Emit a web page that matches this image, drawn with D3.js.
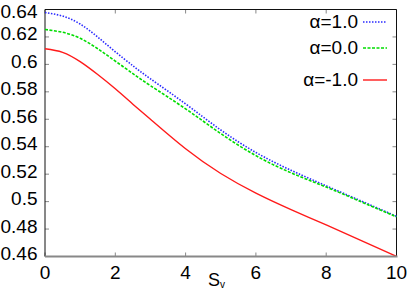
<!DOCTYPE html>
<html>
<head>
<meta charset="utf-8">
<script src="https://cdn.jsdelivr.net/npm/d3@7"></script>
<style>
  body { margin: 0; background: #fff; }
  svg { display: block; font-family: "Liberation Sans", Arial, sans-serif; }
</style>
</head>
<body>
<svg id="chart" width="415" height="291"></svg>
<script>
// values
const sv = [0, 0.5, 1, 1.5, 2, 2.5, 3, 4, 5, 6, 7, 8, 9, 10];
const alphaPos = [0.6378, 0.6352, 0.6294, 0.6199, 0.6092, 0.5990, 0.5895, 0.5712, 0.5522, 0.5358, 0.5228, 0.5115, 0.5004, 0.4893];
const alphaZero = [0.6254, 0.6234, 0.6190, 0.6114, 0.6024, 0.5933, 0.5845, 0.5676, 0.5496, 0.5335, 0.5210, 0.5106, 0.4998, 0.4889];
const alphaNeg = [0.6114, 0.6088, 0.6020, 0.5926, 0.5822, 0.5710, 0.5600, 0.5385, 0.5205, 0.5062, 0.4942, 0.4830, 0.4716, 0.4601];
const seriesNames = ["\u03b1=1.0", "\u03b1=0.0", "\u03b1=-1.0"];
const xTicks = [0, 2, 4, 6, 8, 10];
const yTicks = [0.46, 0.48, 0.5, 0.52, 0.54, 0.56, 0.58, 0.6, 0.62, 0.64];

const plotL = 45, plotR = 396.5, plotT = 9.5, plotB = 256.5;

const svg = d3.select("#chart");

const x = d3.scaleLinear().domain([0, 10]).range([plotL, plotR]);
const y = d3.scaleLinear().domain([0.46, 0.64]).range([plotB, plotT]);

const styles = [
  { color: "#2b2bff", dash: "1.5,1.5", width: 1.6 },
  { color: "#00dd00", dash: "3,1.5", width: 1.6 },
  { color: "#ff1a1a", dash: null, width: 1.4 }
];
const allSeries = [alphaPos, alphaZero, alphaNeg];

// ticks, pointing inward on all four sides
const tickLen = 4;
const g = svg.append("g").attr("stroke", "#888");
g.append("g").selectAll("line").data(yTicks).join("line")
  .attr("x1", plotL).attr("x2", plotL + tickLen)
  .attr("y1", d => y(d)).attr("y2", d => y(d));
g.append("g").selectAll("line").data(yTicks).join("line")
  .attr("x1", plotR).attr("x2", plotR - tickLen)
  .attr("y1", d => y(d)).attr("y2", d => y(d));
g.append("g").selectAll("line").data(xTicks).join("line")
  .attr("y1", plotB).attr("y2", plotB - tickLen)
  .attr("x1", d => x(d)).attr("x2", d => x(d));
g.append("g").selectAll("line").data(xTicks).join("line")
  .attr("y1", plotT).attr("y2", plotT + tickLen)
  .attr("x1", d => x(d)).attr("x2", d => x(d));

// frame
svg.append("line").attr("x1", plotL).attr("x2", plotR).attr("y1", plotT).attr("y2", plotT).attr("stroke", "#111");
svg.append("line").attr("x1", plotL).attr("x2", plotL).attr("y1", plotT).attr("y2", plotB).attr("stroke", "#111");
svg.append("line").attr("x1", plotR).attr("x2", plotR).attr("y1", plotT).attr("y2", plotB).attr("stroke", "#111");

// curves
const line = d3.line().x((d, i) => x(sv[i])).y(d => y(d)).curve(d3.curveNatural);
allSeries.forEach((vals, k) => {
  svg.append("path")
    .attr("d", line(vals))
    .attr("fill", "none")
    .attr("stroke", styles[k].color)
    .attr("stroke-width", styles[k].width)
    .attr("stroke-dasharray", styles[k].dash);
});

svg.append("line").attr("x1", plotL).attr("x2", plotR + 1).attr("y1", plotB).attr("y2", plotB)
  .attr("stroke", "#888").attr("stroke-width", 2);

// tick labels (top one kept just inside the page)
svg.append("g").selectAll("text").data(yTicks).join("text")
  .attr("x", 37.5).attr("y", d => Math.max(y(d) + 3.5, 17.5))
  .attr("text-anchor", "end")
  .attr("font-size", 19)
  .text(d => d3.format("")(d));

svg.append("g").selectAll("text").data(xTicks).join("text")
  .attr("x", d => x(d)).attr("y", 279)
  .attr("text-anchor", "middle")
  .attr("font-size", 19)
  .text(d => d);

// axis title
const xt = svg.append("text").attr("x", 208).attr("y", 286).attr("font-size", 18);
xt.append("tspan").text("S");
xt.append("tspan").attr("font-size", 10).attr("dy", 1.5).text("v");

// legend
const legY = [22, 48, 80];
seriesNames.forEach((name, k) => {
  svg.append("text")
    .attr("x", 358).attr("y", legY[k] + 6)
    .attr("text-anchor", "end")
    .attr("font-size", 19)
    .text(name);
  svg.append("line")
    .attr("x1", 363).attr("x2", 387)
    .attr("y1", legY[k]).attr("y2", legY[k])
    .attr("stroke", styles[k].color)
    .attr("stroke-width", styles[k].width)
    .attr("stroke-dasharray", styles[k].dash);
});
</script>
</body>
</html>
